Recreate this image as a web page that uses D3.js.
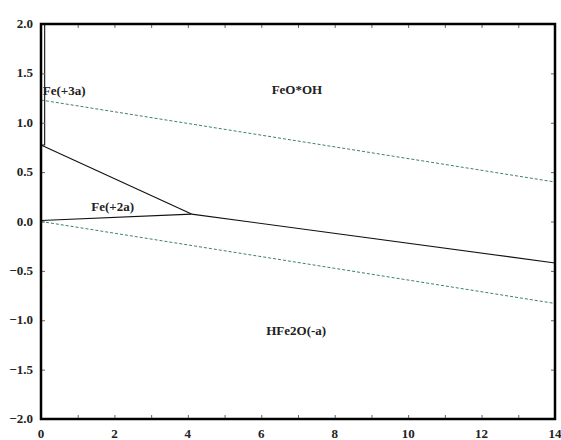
<!DOCTYPE html>
<html>
<head>
<meta charset="utf-8">
<script src="https://cdn.jsdelivr.net/npm/d3@7"></script>
<style>
    body { margin: 0; background: #fff; }
</style>
</head>
<body>
<script>
//Eh-pH diagram for iron (Fe - H2O)

//axis ticks
var xTicks = [0, 2, 4, 6, 8, 10, 12, 14];
var xMinor = [0, 1, 2, 3, 4, 5, 6, 7, 8, 9, 10, 11, 12, 13, 14];
var yTicks = [2.0, 1.5, 1.0, 0.5, 0.0, -0.5, -1.0, -1.5, -2.0];

//stability field boundaries, [pH, Eh]
var fe3Strip = [[0, 2.0], [0.1, 2.0], [0.1, 0.775], [0, 0.775]];
var fe3Fe2 = [[0, 0.775], [4.1, 0.075]];
var fe2Lower = [[0, 0.01], [4.1, 0.075]];
var feoohLower = [[4.1, 0.075], [14, -0.42]];

//water stability limits (dashed)
var o2Line = [[0, 1.23], [14, 0.40]];
var h2Line = [[0, 0.0], [14, -0.83]];

//field labels
var fieldNames = ["Fe(+3a)", "FeO*OH", "Fe(+2a)", "HFe2O(-a)"];
var fieldPos = [[0.05, 1.28], [6.97, 1.29], [1.95, 0.105], [6.95, -1.15]];

window.onload = function(){

    var w = 561, h = 440;
    var margin = {left: 41, right: 6, top: 24, bottom: 21};
    var serif = "Liberation Serif";

    var svg = d3.select("body")
        .append("svg")
        .attr("width", w)
        .attr("height", h);

    var x = d3.scaleLinear()
        .domain([0, 14])
        .range([margin.left, w - margin.right]);

    var y = d3.scaleLinear()
        .domain([-2, 2])
        .range([h - margin.bottom, margin.top]);

    var line = d3.line()
        .x(function(d){ return x(d[0]); })
        .y(function(d){ return y(d[1]); });

    //dashed water lines
    svg.selectAll(".water")
        .data([o2Line, h2Line])
        .enter()
        .append("path")
        .attr("class", "water")
        .attr("d", line)
        .style("fill", "none")
        .style("stroke", "#3f7f72")
        .style("stroke-width", 1)
        .style("stroke-dasharray", "3,2");

    //solid boundaries
    svg.selectAll(".bound")
        .data([fe3Fe2, fe2Lower, feoohLower])
        .enter()
        .append("path")
        .attr("class", "bound")
        .attr("d", line)
        .style("fill", "none")
        .style("stroke", "#111")
        .style("stroke-width", 1.1);

    //narrow Fe(+3a) strip at the left edge
    svg.append("path")
        .attr("d", line(fe3Strip))
        .style("fill", "none")
        .style("stroke", "#111")
        .style("stroke-width", 1.1);

    //tick marks, all pointing inward
    var tl = 4;
    svg.append("g").call(d3.axisBottom(x).tickValues(xMinor).tickSize(-tl).tickFormat(""))
        .attr("transform", "translate(0," + y(-2) + ")");
    svg.append("g").call(d3.axisTop(x).tickValues(xMinor).tickSize(-tl).tickFormat(""))
        .attr("transform", "translate(0," + y(2) + ")");
    svg.append("g").call(d3.axisLeft(y).tickValues(yTicks).tickSize(-tl).tickFormat(""))
        .attr("transform", "translate(" + x(0) + ",0)");
    svg.append("g").call(d3.axisRight(y).tickValues(yTicks).tickSize(-tl).tickFormat(""))
        .attr("transform", "translate(" + x(14) + ",0)");
    svg.selectAll(".domain").remove();
    svg.selectAll(".tick line").style("stroke", "#666");

    //frame
    svg.append("rect")
        .attr("x", x(0))
        .attr("y", y(2))
        .attr("width", x(14) - x(0))
        .attr("height", y(-2) - y(2))
        .style("fill", "none")
        .style("stroke", "#000")
        .style("stroke-width", 2.5);

    //tick labels
    svg.selectAll(".xLab")
        .data(xTicks)
        .enter()
        .append("text")
        .attr("class", "xLab")
        .attr("text-anchor", "middle")
        .attr("x", function(d){ return x(d); })
        .attr("y", y(-2) + 19)
        .style("font-family", serif)
        .style("font-weight", "bold")
        .style("font-size", "13px")
        .style("fill", "#222")
        .text(function(d){ return d; });

    svg.selectAll(".yLab")
        .data(yTicks)
        .enter()
        .append("text")
        .attr("class", "yLab")
        .attr("text-anchor", "end")
        .attr("x", x(0) - 8)
        .attr("y", function(d){ return y(d) + 4; })
        .style("font-family", serif)
        .style("font-weight", "bold")
        .style("font-size", "13px")
        .style("fill", "#222")
        .text(function(d){ return d3.format(".1f")(d); });

    //field labels
    svg.selectAll(".field")
        .data(fieldNames)
        .enter()
        .append("text")
        .attr("class", "field")
        .attr("text-anchor", function(d, i){ return i == 0 ? "start" : "middle"; })
        .attr("x", function(d, i){ return x(fieldPos[i][0]); })
        .attr("y", function(d, i){ return y(fieldPos[i][1]); })
        .style("font-family", serif)
        .style("font-weight", "bold")
        .style("font-size", "13px")
        .style("fill", "#222")
        .text(function(d){ return d; });
};
</script>
</body>
</html>
